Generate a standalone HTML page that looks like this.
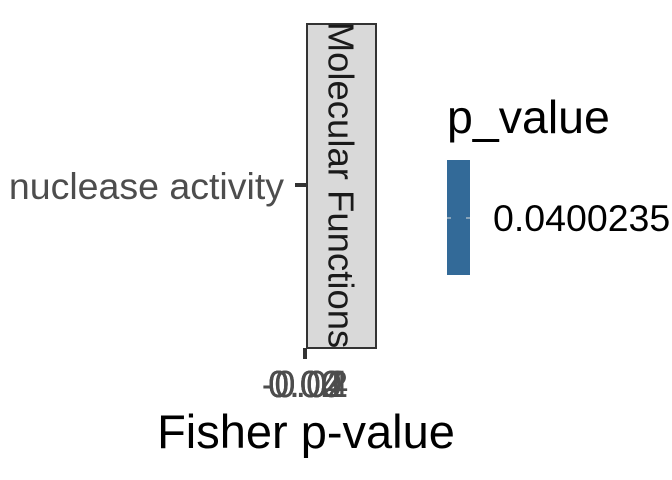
<!DOCTYPE html>
<html><head><meta charset="utf-8"><style>
html,body{margin:0;padding:0;background:#fff;}
svg{display:block;font-family:"Liberation Sans",sans-serif;}
</style></head><body>
<svg width="672" height="480" viewBox="0 0 672 480" xmlns="http://www.w3.org/2000/svg">
<rect width="672" height="480" fill="#fff"/>
<rect x="307" y="24" width="69" height="324" fill="#d9d9d9" stroke="#333" stroke-width="2"/>
<text x="341" y="185" transform="rotate(90 341 185)" text-anchor="middle" dominant-baseline="central" font-size="36.5" fill="#1a1a1a">Molecular Functions</text>
<line x1="295" y1="185" x2="306" y2="185" stroke="#333" stroke-width="4"/>
<text x="284" y="199" text-anchor="end" font-size="37.5" fill="#4d4d4d">nuclease activity</text>
<line x1="305" y1="348" x2="305" y2="359" stroke="#333" stroke-width="4"/>
<g font-size="38" fill="#4d4d4d" text-anchor="middle">
<text x="305" y="397">-0.04</text>
<text x="305" y="397">-0.02</text>
<text x="305" y="397">0.00</text>
<text x="305" y="397">0.02</text>
<text x="305" y="397">0.04</text>
</g>
<text x="306" y="448" text-anchor="middle" font-size="47" fill="#000">Fisher p-value</text>
<text x="447" y="133" font-size="46.5" fill="#000">p_value</text>
<rect x="447" y="160" width="23" height="115" fill="#336a98"/>
<line x1="447" y1="218" x2="451" y2="218" stroke="#ddd" stroke-width="1"/>
<line x1="466" y1="218" x2="470" y2="218" stroke="#ddd" stroke-width="1"/>
<text x="493" y="231" font-size="37.5" fill="#000">0.0400235</text>
</svg>
</body></html>
